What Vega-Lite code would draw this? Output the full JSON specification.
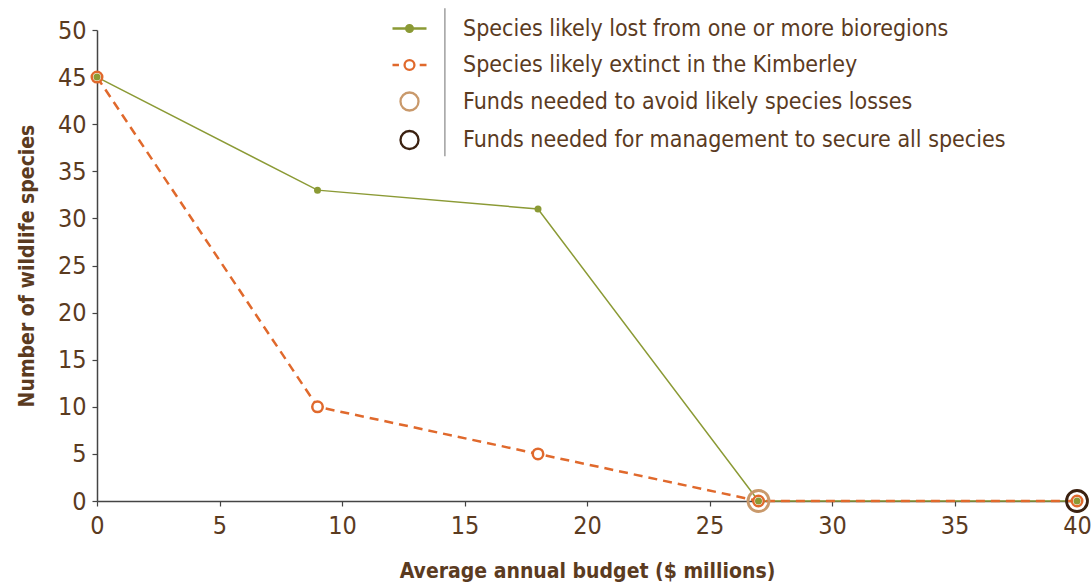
{
  "$schema": "https://vega.github.io/schema/vega-lite/v6.json",
  "width": 980,
  "height": 471,
  "autosize": {"type": "none"},
  "padding": {"left": 97, "top": 30, "right": 15, "bottom": 84},
  "background": "white",
  "config": {
    "view": {"stroke": null},
    "font": "DejaVu Sans Condensed, sans-serif",
    "axis": {
      "grid": false,
      "domainColor": "#444444",
      "domainWidth": 1.5,
      "tickColor": "#444444",
      "tickSize": 5,
      "tickWidth": 1.2,
      "labelFont": "DejaVu Sans Condensed, sans-serif",
      "labelFontSize": 25,
      "labelColor": "#5b3b1f",
      "titleFont": "DejaVu Sans Condensed, sans-serif",
      "titleFontSize": 21,
      "titleFontWeight": "bold",
      "titleColor": "#5b3b1f"
    },
    "legend": {
      "labelFont": "DejaVu Sans Condensed, sans-serif",
      "labelFontSize": 23,
      "labelColor": "#5b3b1f"
    }
  },
  "datasets": {
    "series": [
      {"budget": 0, "species": 45, "series": "Species likely lost from one or more bioregions"},
      {"budget": 9, "species": 33, "series": "Species likely lost from one or more bioregions"},
      {"budget": 18, "species": 31, "series": "Species likely lost from one or more bioregions"},
      {"budget": 27, "species": 0, "series": "Species likely lost from one or more bioregions"},
      {"budget": 40, "species": 0, "series": "Species likely lost from one or more bioregions"},
      {"budget": 0, "species": 45, "series": "Species likely extinct in the Kimberley"},
      {"budget": 9, "species": 10, "series": "Species likely extinct in the Kimberley"},
      {"budget": 18, "species": 5, "series": "Species likely extinct in the Kimberley"},
      {"budget": 27, "species": 0, "series": "Species likely extinct in the Kimberley"},
      {"budget": 40, "species": 0, "series": "Species likely extinct in the Kimberley"}
    ],
    "funds": [
      {"budget": 27, "species": 0, "series": "Funds needed to avoid likely species losses"},
      {"budget": 40, "species": 0, "series": "Funds needed for management to secure all species"}
    ]
  },
  "layer": [
    {
      "data": {"values": [{"k": 1}]},
      "mark": {"type": "rule", "color": "#888888", "strokeWidth": 1.2},
      "encoding": {
        "x": {"datum": 14.2, "type": "quantitative", "scale": {"domain": [0, 40], "nice": false, "zero": false}},
        "y": {"datum": 52.3, "type": "quantitative", "scale": {"domain": [0, 50], "nice": false}},
        "y2": {"datum": 36.6}
      }
    },
    {
      "data": {"name": "series"},
      "transform": [{"filter": "datum.series === 'Species likely lost from one or more bioregions'"}],
      "mark": {"type": "line", "color": "#8b9a35", "strokeWidth": 1.5},
      "encoding": {
        "x": {
          "field": "budget", "type": "quantitative",
          "scale": {"domain": [0, 40], "nice": false, "zero": false},
          "axis": {"values": [0, 5, 10, 15, 20, 25, 30, 35, 40], "title": "Average annual budget ($ millions)", "labelPadding": 7, "titlePadding": 22, "labelFlush": false}
        },
        "y": {
          "field": "species", "type": "quantitative",
          "scale": {"domain": [0, 50], "nice": false},
          "axis": {"values": [0, 5, 10, 15, 20, 25, 30, 35, 40, 45, 50], "title": "Number of wildlife species", "labelPadding": 6, "titlePadding": 20}
        }
      }
    },
    {
      "data": {"name": "series"},
      "transform": [{"filter": "datum.series === 'Species likely extinct in the Kimberley'"}],
      "mark": {"type": "line", "color": "#e0692c", "strokeWidth": 2.5, "strokeDash": [9, 6]},
      "encoding": {
        "x": {"field": "budget", "type": "quantitative"},
        "y": {"field": "species", "type": "quantitative"}
      }
    },
    {
      "data": {"name": "series"},
      "transform": [{"filter": "datum.series === 'Species likely extinct in the Kimberley'"}],
      "mark": {"type": "point", "shape": "circle", "filled": true, "fill": "white", "stroke": "#e0692c", "strokeWidth": 2.5, "size": 110, "opacity": 1},
      "encoding": {
        "x": {"field": "budget", "type": "quantitative"},
        "y": {"field": "species", "type": "quantitative"}
      }
    },
    {
      "data": {"name": "series"},
      "transform": [{"filter": "datum.series === 'Species likely lost from one or more bioregions'"}],
      "mark": {"type": "point", "shape": "circle", "filled": true, "color": "#8b9a35", "size": 49, "opacity": 1, "strokeWidth": 0},
      "encoding": {
        "x": {"field": "budget", "type": "quantitative"},
        "y": {"field": "species", "type": "quantitative"}
      }
    },
    {
      "data": {"name": "funds"},
      "mark": {"type": "point", "filled": true, "strokeWidth": 2.8, "size": 1570, "opacity": 1},
      "encoding": {
        "x": {"field": "budget", "type": "quantitative"},
        "y": {"field": "species", "type": "quantitative"},
        "stroke": {
          "field": "series", "type": "nominal",
          "scale": {
            "domain": ["Species likely lost from one or more bioregions", "Species likely extinct in the Kimberley", "Funds needed to avoid likely species losses", "Funds needed for management to secure all species"],
            "range": ["#8b9a35", "#e0692c", "#c9996b", "#3b2110"]
          },
          "legend": {
            "title": null, "orient": "none", "legendX": 294, "legendY": -20, "padding": 0,
            "symbolSize": 1156, "symbolStrokeWidth": 2.3, "labelOffset": 35, "rowPadding": 5.5, "labelLimit": 0
          }
        },
        "fill": {
          "field": "series", "type": "nominal",
          "scale": {
            "domain": ["Species likely lost from one or more bioregions", "Species likely extinct in the Kimberley", "Funds needed to avoid likely species losses", "Funds needed for management to secure all species"],
            "range": ["#8b9a35", "#ffffff", "transparent", "transparent"]
          },
          "legend": {
            "title": null, "orient": "none", "legendX": 294, "legendY": -20, "padding": 0,
            "symbolSize": 1156, "symbolStrokeWidth": 2.3, "labelOffset": 35, "rowPadding": 5.5, "labelLimit": 0
          }
        },
        "shape": {
          "field": "series", "type": "nominal",
          "scale": {
            "domain": ["Species likely lost from one or more bioregions", "Species likely extinct in the Kimberley", "Funds needed to avoid likely species losses", "Funds needed for management to secure all species"],
            "range": [
              "M-1,0H1M0.2,0A0.2,0.2,0,1,1,-0.2,0A0.2,0.2,0,1,1,0.2,0",
              "M-1,0H-0.62M0.6,0H1M0.29,0A0.29,0.29,0,1,1,-0.29,0A0.29,0.29,0,1,1,0.29,0",
              "M0.53,0A0.53,0.53,0,1,1,-0.53,0A0.53,0.53,0,1,1,0.53,0",
              "M0.53,0A0.53,0.53,0,1,1,-0.53,0A0.53,0.53,0,1,1,0.53,0"
            ]
          },
          "legend": {
            "title": null, "orient": "none", "legendX": 294, "legendY": -20, "padding": 0,
            "symbolSize": 1156, "symbolStrokeWidth": 2.3, "labelOffset": 35, "rowPadding": 5.5, "labelLimit": 0
          }
        }
      }
    }
  ]
}
